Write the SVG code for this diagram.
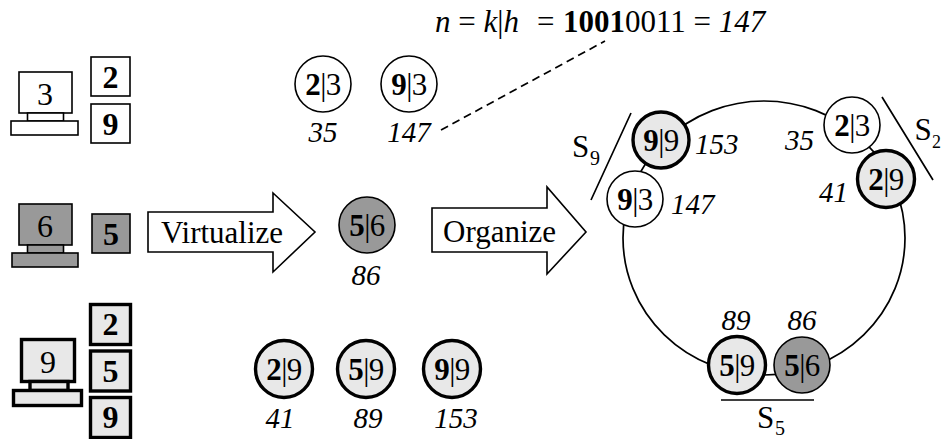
<svg xmlns="http://www.w3.org/2000/svg" width="942" height="439" viewBox="0 0 942 439">
<style>
text{font-family:"Liberation Serif","Times New Roman",serif;font-size:31px;fill:#000}
.m{text-anchor:middle}
.b{font-weight:bold}
.i{font-style:italic;font-size:29px}
.d{font-size:32px;text-anchor:middle}
.n{text-anchor:middle;letter-spacing:-.5px}
.s{font-size:20px}
.w{fill:#fff;stroke:#000;stroke-width:1.6}
.g{fill:#999;stroke:#000;stroke-width:1.6}
.l{fill:#e8e8e8;stroke:#000;stroke-width:3.4}
.c{fill:none;stroke:#000;stroke-width:1.7}
</style>
<rect width="942" height="439" fill="#fff"/>
<g id="connectors">
<ellipse class="c" cx="764" cy="238" rx="141" ry="137"/>
<path class="c" d="M441 130L605 41" stroke-dasharray="8 5"/>
<path class="c" d="M631 113L591 200M882 97L933 180M721 400H814"/>
</g>
<g id="host3"><rect class="w" x="19" y="72" width="53" height="41"/><rect class="w" x="27.500" y="113" width="36" height="8"/><rect class="w" x="11" y="121" width="67" height="14"/><text class="d" x="45" y="105">3</text></g>
<g id="key2a"><rect class="w" x="91" y="57" width="39" height="39"/><text class="d b" x="110.500" y="88">2</text></g>
<g id="key9a"><rect class="w" x="91" y="104" width="39" height="39"/><text class="d b" x="110.500" y="135">9</text></g>
<g id="host6"><rect class="g" x="19" y="204" width="53" height="41"/><rect class="g" x="27.500" y="245" width="36" height="8"/><rect class="g" x="12" y="253" width="66" height="14"/><text class="d" x="45" y="237">6</text></g>
<g id="key5a"><rect class="g" x="92" y="214" width="38" height="39"/><text class="d b" x="111" y="245">5</text></g>
<g id="host9"><rect class="l" x="21.500" y="339.500" width="53" height="42"/><rect class="l" x="30" y="381.500" width="38" height="9"/><rect class="l" x="13.500" y="390.500" width="68" height="15"/><text class="d" x="48" y="373">9</text></g>
<g id="key2b"><rect class="l" x="90.500" y="304.500" width="40" height="40"/><text class="d b" x="110.500" y="335">2</text></g>
<g id="key5b"><rect class="l" x="90.500" y="351" width="40" height="40"/><text class="d b" x="110.500" y="382">5</text></g>
<g id="key9b"><rect class="l" x="90.500" y="397.500" width="40" height="40"/><text class="d b" x="110.500" y="428">9</text></g>
<g id="arrow-virtualize"><path class="w" d="M148 212H273V193L315 232L273 272V252H148Z"/><text x="161" y="243">Virtualize</text></g>
<g id="arrow-organize"><path class="w" d="M432 208H547V187L586 232L547 274V252H432Z"/><text x="443" y="242">Organize</text></g>
<g id="v23"><circle class="w" cx="323" cy="84" r="28"/><text class="n" x="323" y="95"><tspan class="b">2</tspan>|3</text><text class="m i" x="323" y="142">35</text></g>
<g id="v93"><circle class="w" cx="409" cy="84" r="28"/><text class="n" x="409" y="95"><tspan class="b">9</tspan>|3</text><text class="m i" x="409" y="142">147</text></g>
<g id="v56"><circle class="g" cx="367" cy="225" r="28"/><text class="n" x="367" y="236"><tspan class="b">5</tspan>|6</text><text class="m i" x="366" y="285">86</text></g>
<g id="v29"><circle class="l" cx="284" cy="369" r="28.500"/><text class="n" x="284" y="380"><tspan class="b">2</tspan>|9</text><text class="m i" x="280" y="428">41</text></g>
<g id="v59"><circle class="l" cx="366" cy="369" r="28.500"/><text class="n" x="366" y="380"><tspan class="b">5</tspan>|9</text><text class="m i" x="368" y="428">89</text></g>
<g id="v99"><circle class="l" cx="452" cy="369" r="28.500"/><text class="n" x="452" y="380"><tspan class="b">9</tspan>|9</text><text class="m i" x="456" y="428">153</text></g>
<g id="r99"><circle class="l" cx="661" cy="140" r="28"/><text class="n" x="661" y="151"><tspan class="b">9</tspan>|9</text><text class="i" x="695" y="154">153</text></g>
<g id="r93"><circle class="w" cx="635" cy="199" r="28"/><text class="n" x="635" y="210"><tspan class="b">9</tspan>|3</text><text class="i" x="671" y="214">147</text></g>
<g id="r23"><circle class="w" cx="852" cy="125" r="28"/><text class="n" x="852" y="136"><tspan class="b">2</tspan>|3</text><text class="i" x="785" y="150">35</text></g>
<g id="r29"><circle class="l" cx="886" cy="179" r="28.500"/><text class="n" x="886" y="190"><tspan class="b">2</tspan>|9</text><text class="i" x="819" y="202">41</text></g>
<g id="r59"><circle class="l" cx="737" cy="365" r="28.500"/><text class="n" x="737" y="376"><tspan class="b">5</tspan>|9</text><text class="m i" x="736" y="330">89</text></g>
<g id="r56"><circle class="g" cx="802" cy="365" r="28"/><text class="n" x="802" y="376"><tspan class="b">5</tspan>|6</text><text class="m i" x="802" y="330">86</text></g>
<g id="s9"><text x="572" y="157">S</text><text class="s" x="590" y="165">9</text></g>
<g id="s2"><text x="914.500" y="140">S</text><text class="s" x="932" y="148" style="font-size:18px">2</text></g>
<g id="s5"><text x="757" y="428">S</text><text class="s" x="775" y="435">5</text></g>
<text id="formula" y="32"><tspan x="435" class="i" style="font-size:31px">n</tspan> = <tspan class="i" style="font-size:31px">k</tspan>|<tspan class="i" style="font-size:31px">h</tspan><tspan x="537" y="32">=</tspan><tspan x="563" y="32" class="b">1001</tspan>0011 = <tspan class="i" style="font-size:31px">147</tspan></text>
</svg>
